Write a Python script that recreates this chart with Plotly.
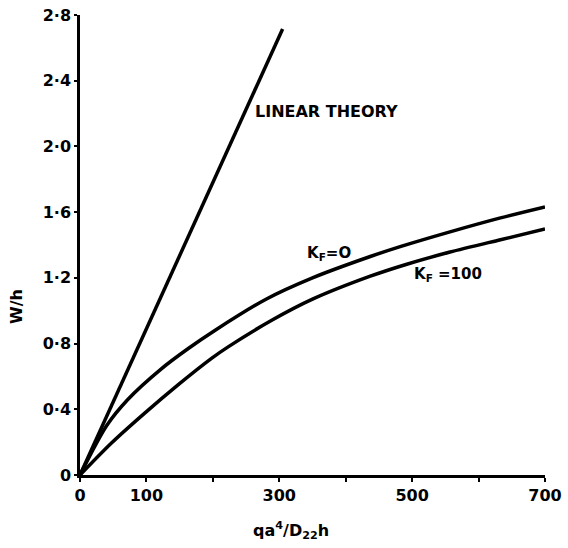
import plotly.graph_objects as go

# ---- data ----
linear_x = [0, 305]
linear_y = [0, 2.715]

kf0_x = [0, 40, 72, 122, 163, 203, 280, 350, 437, 482, 557, 633, 700]
kf0_y = [0, 0.30, 0.46, 0.645, 0.77, 0.88, 1.07, 1.20, 1.33, 1.39, 1.48, 1.565, 1.632]

kf100_x = [0, 47, 97, 148, 198, 223, 288, 350, 437, 492, 557, 633, 700]
kf100_y = [0, 0.193, 0.375, 0.55, 0.71, 0.78, 0.94, 1.07, 1.21, 1.283, 1.357, 1.432, 1.497]

x_tick_vals = [0, 100, 200, 300, 400, 500, 600, 700]
x_tick_text = ["0", "100", "", "300", "", "500", "", "700"]
y_tick_vals = [0, 0.4, 0.8, 1.2, 1.6, 2.0, 2.4, 2.8]
y_tick_text = ["0", "0·4", "0·8", "1·2", "1·6", "2·0", "2·4", "2·8"]

FONT = "DejaVu Sans"

# plot area in the page: x 80..545, y 15..475
FIG_W, FIG_H = 568, 548
L, T, W, H = 80, 15, 465, 460

fig = go.Figure()
fig.add_trace(go.Scatter(x=linear_x, y=linear_y, mode="lines",
                         line=dict(color="black", width=3.5), name="Linear theory"))
fig.add_trace(go.Scatter(x=kf0_x, y=kf0_y, mode="lines",
                         line=dict(color="black", width=3.5, shape="spline", smoothing=0.8),
                         name="K_F=0"))
fig.add_trace(go.Scatter(x=kf100_x, y=kf100_y, mode="lines",
                         line=dict(color="black", width=3.5, shape="spline", smoothing=0.8),
                         name="K_F=100"))

tickfont = dict(family=FONT, size=16, color="black", weight="bold")
fig.update_layout(
    width=FIG_W, height=FIG_H,
    margin=dict(l=L, r=FIG_W - L - W, t=T, b=FIG_H - T - H, autoexpand=False),
    paper_bgcolor="white", plot_bgcolor="white",
    showlegend=False,
    font=dict(family=FONT, size=13, color="black"),
    xaxis=dict(range=[0, 700], tickvals=x_tick_vals, ticktext=x_tick_text,
               automargin=False,
               showgrid=False, zeroline=False, showline=True, linecolor="black",
               linewidth=2.5, ticks="outside", ticklen=4, tickwidth=1.5,
               tickcolor="black", tickfont=tickfont),
    yaxis=dict(range=[0, 2.8], tickvals=y_tick_vals, ticktext=y_tick_text,
               automargin=False,
               showgrid=False, zeroline=False, showline=True, linecolor="black",
               linewidth=2.5, ticks="outside", ticklen=3, tickwidth=1.5,
               tickcolor="black", tickfont=tickfont),
)

def px_to_paper(px, py):
    return (px - L) / W, (T + H - py) / H

fig.add_annotation(x=260, y=2.215, text="LINEAR THEORY", showarrow=False,
                   xanchor="left", yanchor="middle",
                   font=dict(family=FONT, size=16, color="black", weight="bold"))
fig.add_annotation(x=339, y=1.35, text="K<sub>F</sub>=O", showarrow=False,
                   xanchor="left", yanchor="middle",
                   font=dict(family=FONT, size=15, color="black", weight="bold"))
fig.add_annotation(x=500, y=1.22, text="K<sub>F</sub> =100", showarrow=False,
                   xanchor="left", yanchor="middle",
                   font=dict(family=FONT, size=15, color="black", weight="bold"))
xl, yl = px_to_paper(291, 530)
fig.add_annotation(xref="paper", yref="paper", x=xl, y=yl,
                   text="qa<sup>4</sup>/D<sub>22</sub>h", showarrow=False,
                   xanchor="center", yanchor="middle",
                   font=dict(family=FONT, size=16, color="black", weight="bold"))
xw, yw = px_to_paper(16, 307)
fig.add_annotation(xref="paper", yref="paper", x=xw, y=yw,
                   text="W/h", showarrow=False, textangle=-90,
                   xanchor="center", yanchor="middle",
                   font=dict(family=FONT, size=16, color="black", weight="bold"))

fig.write_html("out.html", config={"displayModeBar": False},
               post_script="document.body.style.margin='0';document.body.style.padding='0';"
                           "document.documentElement.style.overflow='hidden';")
